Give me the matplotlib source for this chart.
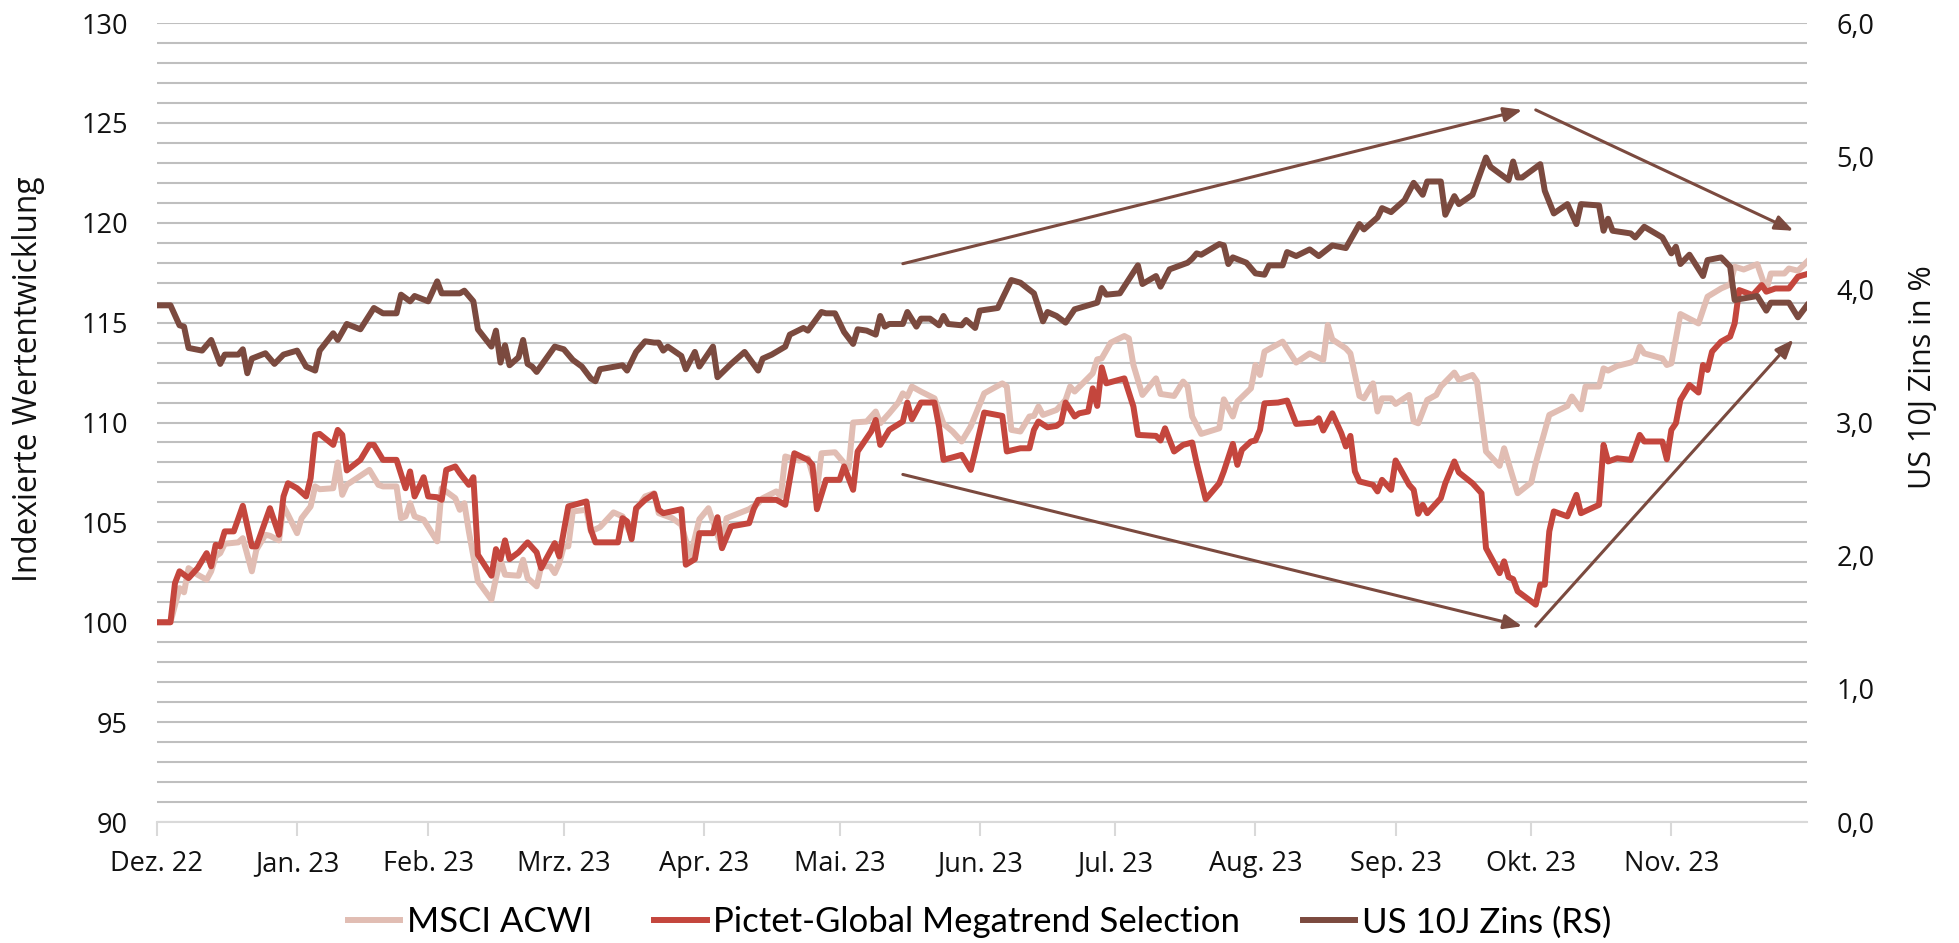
import matplotlib.pyplot as plt
import matplotlib.ticker as mticker
import numpy as np

# Daten (Tage ab 30.12.2022)
start = np.datetime64("2022-12-30")

msci_day = [0, 3, 5, 6, 7, 9, 11, 12, 13, 14, 15, 18, 19, 21, 22, 24, 25, 27, 28, 29,
            31, 32, 34, 35, 36, 39, 40, 41, 42, 47, 49, 50, 53, 54, 55, 56, 57, 59, 62,
            63, 66, 67, 68, 69, 71, 74, 75, 76, 77, 80, 81, 82, 84, 85, 87, 88, 89, 90,
            91, 92, 95, 96, 98, 101, 103, 105, 106, 108, 110, 111, 114, 116, 118, 120,
            122, 125, 126, 131, 133, 134, 137, 138, 139, 142, 144, 146, 147, 150, 153,
            154, 157, 159, 160, 162, 164, 165, 166, 167, 169, 172, 174, 176, 178, 180,
            183, 187, 188, 189, 191, 193, 194, 195, 196, 199, 201, 202, 203, 207, 208,
            209, 211, 214, 215, 216, 218, 221, 222, 225, 227, 228, 229, 231, 235, 236,
            238, 239, 242, 243, 244, 245, 249, 252, 255, 258, 259, 260, 263, 264, 266,
            267, 269, 270, 271, 273, 274, 277, 278, 279, 281, 283, 284, 287, 288, 291,
            292, 294, 297, 298, 301, 304, 305, 308, 312, 313, 315, 316, 319, 320, 321,
            323, 326, 327, 328, 329, 333, 334, 335, 337, 341, 343, 346, 348, 349, 351,
            354, 356, 357, 360, 361, 363, 365]
msci_val = [100.0, 100.0, 101.71, 101.5, 102.71, 102.38, 102.13, 102.55, 103.3, 103.46,
            103.93, 104.0, 104.21, 102.55, 103.63, 104.38, 104.33, 104.1, 105.8, 105.38,
            104.46, 105.21, 105.8, 106.8, 106.66, 106.71, 108.0, 106.38, 106.88, 107.63,
            106.88, 106.8, 106.8, 105.21, 105.3, 105.96, 105.3, 105.13, 104.05,
            106.71, 106.21, 105.63, 105.96, 104.55, 102.05, 101.13, 102.21, 103.13,
            102.38, 102.33, 103.13, 102.21, 101.8, 102.8, 102.8, 102.46, 102.96, 103.8,
            103.8, 105.55, 105.63, 104.55, 104.76, 105.5, 105.3, 104.3, 105.63, 106.3,
            106.46, 105.46, 105.21, 104.88, 103.3, 105.16, 105.71, 103.71, 105.21,
            105.66, 105.96, 106.21, 106.55, 106.3, 108.3, 108.1, 108.21, 106.63, 108.46,
            108.51, 107.71, 110.0, 110.05, 110.55, 109.96, 110.46, 111.0, 111.46, 111.3,
            111.8, 111.55, 111.21, 109.93, 109.55, 109.05, 109.8, 111.46, 111.96, 111.8,
            109.63, 109.55, 110.3, 110.33, 110.8, 110.38, 110.63, 111.13, 111.8, 111.55,
            112.46, 113.16, 113.21, 114.0, 114.33, 114.21, 112.88, 111.38, 112.21,
            111.43, 111.33, 112.05, 111.8, 110.3, 109.43, 109.71, 111.16, 110.3, 111.05,
            111.71, 112.88, 112.38, 113.55, 114.05, 113.0, 113.46, 113.13, 114.88,
            114.16, 113.71, 113.46, 111.33, 111.21, 111.96, 110.55, 111.21, 111.21,
            110.93, 111.38, 110.05, 109.96, 111.13, 111.38, 111.8, 112.5, 112.13,
            112.38, 112.05, 108.55, 107.83, 108.71, 106.46, 107.0, 107.96, 110.38,
            110.83, 111.3, 110.66, 111.8, 111.8, 112.71, 112.6, 112.83, 113.0, 113.13,
            113.8, 113.46, 113.21, 112.88, 112.96, 115.43, 114.96, 116.3, 116.71,
            116.91, 117.8, 117.66, 117.93, 116.63, 117.46, 117.46, 117.71, 117.6, 118.05]

pictet_day = [0, 3, 4, 5, 7, 9, 11, 12, 13, 14, 15, 17, 19, 21, 22, 25, 27, 28, 29, 31,
              33, 34, 35, 36, 39, 40, 41, 42, 45, 47, 48, 50, 53, 55, 56, 57, 59, 60, 62,
              63, 64, 66, 67, 69, 70, 71, 74, 75, 76, 77, 78, 80, 82, 84, 85, 88, 89, 91,
              95, 96, 97, 102, 103, 104, 105, 106, 108, 110, 111, 112, 116, 117, 119,
              120, 123, 124, 125, 127, 131, 132, 133, 137, 139, 141, 144, 145, 146, 148,
              151, 152, 154, 155, 158, 159, 160, 162, 165, 166, 167, 169, 172, 173, 174,
              178, 180, 181, 183, 187, 188, 191, 193, 194, 195, 197, 199, 200, 201, 203,
              204, 206, 207, 208, 209, 210, 214, 216, 217, 221, 222, 223, 225, 227, 229,
              230, 232, 235, 236, 238, 239, 240, 242, 243, 244, 245, 248, 250, 252, 256,
              257, 258, 260, 262, 263, 264, 265, 266, 269, 270, 271, 273, 274, 277, 278,
              279, 280, 281, 284, 285, 287, 288, 291, 293, 294, 297, 298, 299, 300, 301,
              305, 306, 307, 308, 309, 312, 314, 315, 319, 320, 321, 323, 326, 328, 329,
              333, 334, 335, 336, 337, 339, 341, 342, 343, 344, 346, 348, 349, 350, 353,
              355, 356, 358, 361, 363, 365]
pictet_val = [100.0, 100.0, 101.96, 102.55, 102.21, 102.71, 103.46, 102.8, 103.88, 103.8,
              104.55, 104.55, 105.83, 103.8, 103.8, 105.71, 104.38, 106.3, 106.96, 106.71,
              106.3, 107.21, 109.38, 109.43, 108.88, 109.63, 109.38, 107.6, 108.13,
              108.88, 108.88, 108.13, 108.13, 106.71, 107.55, 106.3, 107.26, 106.3,
              106.26, 106.13, 107.63, 107.8, 107.46, 106.88, 107.26, 103.38, 102.33,
              103.66, 103.16, 104.1, 103.16, 103.5, 104.0, 103.5, 102.71, 103.96, 103.3,
              105.8, 106.05, 104.63, 104.0, 104.0, 105.21, 105.05, 104.16, 105.71, 106.13,
              106.43, 105.63, 105.46, 105.66, 102.88, 103.16, 104.46, 104.46, 105.26,
              103.71, 104.8, 104.96, 105.66, 106.13, 106.13, 105.88, 108.46, 108.13,
              107.88, 105.66, 107.13, 107.13, 107.8, 106.63, 108.55, 109.55, 110.13,
              108.88, 109.63, 110.05, 111.0, 110.16, 111.0, 111.0, 109.8, 108.13, 108.38,
              107.63, 108.55, 110.5, 110.33, 108.55, 108.71, 108.71, 109.63, 110.05,
              109.76, 109.83, 110.0, 111.0, 110.3, 110.46, 110.55, 111.71, 110.83,
              112.76, 111.96, 112.21, 110.8, 109.38, 109.33, 109.1, 109.71, 108.55,
              108.88, 109.0, 107.96, 106.16, 106.96, 107.55, 108.93, 107.88, 108.63,
              109.05, 109.1, 109.63, 110.96, 111.0, 111.1, 109.93, 110.0, 110.21, 109.6,
              110.46, 109.46, 108.8, 109.33, 107.55, 107.05, 106.88, 106.55, 107.13,
              106.63, 108.1, 106.88, 106.63, 105.43, 105.88, 105.46, 106.21, 106.96,
              108.05, 107.5, 106.96, 106.46, 103.71, 102.46, 103.05, 102.26, 102.16,
              101.55, 100.88, 101.88, 101.88, 104.55, 105.55, 105.3, 106.38, 105.46,
              105.88, 108.88, 108.05, 108.21, 108.13, 109.38, 109.05, 109.05, 108.16,
              109.63, 109.96, 111.13, 111.88, 111.5, 112.88, 112.63, 113.55, 114.05,
              114.3, 114.96, 116.63, 116.38, 116.88, 116.55, 116.71, 116.71, 117.3, 117.43]

zins_day = [0, 3, 5, 6, 7, 10, 12, 14, 15, 18, 19, 20, 21, 24, 26, 28, 31, 33, 35, 36,
            39, 40, 42, 45, 48, 50, 53, 54, 56, 57, 60, 62, 63, 67, 68, 70, 71, 74, 75,
            76, 77, 78, 80, 81, 82, 83, 84, 88, 90, 92, 94, 96, 97, 98, 103, 104, 106,
            108, 110, 111, 112, 113, 116, 117, 119, 120, 123, 124, 127, 130, 133, 134,
            136, 139, 140, 143, 144, 147, 148, 150, 152, 154, 155, 157, 159, 160, 161,
            162, 165, 166, 168, 169, 171, 173, 174, 175, 178, 179, 181, 182, 186, 189,
            191, 194, 196, 197, 199, 201, 203, 208, 209, 210, 213, 217, 218, 221, 222,
            224, 228, 229, 230, 231, 235, 236, 237, 238, 241, 243, 245, 246, 249, 250,
            252, 255, 257, 260, 263, 266, 267, 270, 271, 273, 276, 278, 280, 281, 284,
            285, 287, 288, 291, 294, 295, 299, 300, 301, 302, 306, 307, 309, 312, 314,
            315, 319, 320, 321, 322, 326, 327, 329, 333, 335, 336, 337, 339, 342, 343,
            346, 348, 349, 354, 356, 357, 361, 363, 365]
zins_val = [3.88, 3.88, 3.73, 3.72, 3.56, 3.54, 3.62, 3.44, 3.51, 3.51, 3.55, 3.37, 3.48,
            3.52, 3.44, 3.51, 3.54, 3.42, 3.39, 3.54, 3.67, 3.62, 3.74, 3.70, 3.86, 3.82,
            3.82, 3.96, 3.91, 3.95, 3.91, 4.06, 3.97, 3.97, 3.99, 3.91, 3.70, 3.57, 3.69,
            3.45, 3.58, 3.43, 3.49, 3.62, 3.44, 3.42, 3.38, 3.57, 3.55, 3.47, 3.42, 3.33,
            3.31, 3.40, 3.43, 3.39, 3.53, 3.61, 3.60, 3.60, 3.54, 3.57, 3.50, 3.40, 3.53,
            3.42, 3.57, 3.34, 3.44, 3.53, 3.39, 3.48, 3.51, 3.57, 3.66, 3.71, 3.69, 3.83,
            3.82, 3.82, 3.68, 3.59, 3.70, 3.69, 3.66, 3.80, 3.72, 3.74, 3.74, 3.83, 3.72,
            3.78, 3.78, 3.73, 3.80, 3.74, 3.73, 3.77, 3.71, 3.84, 3.86, 4.07, 4.05, 3.97,
            3.76, 3.83, 3.80, 3.75, 3.85, 3.90, 4.01, 3.96, 3.97, 4.18, 4.04, 4.10, 4.02,
            4.15, 4.20, 4.23, 4.27, 4.26, 4.34, 4.33, 4.19, 4.24, 4.20, 4.12, 4.11, 4.18,
            4.18, 4.28, 4.25, 4.30, 4.25, 4.33, 4.31, 4.49, 4.45, 4.54, 4.61, 4.58, 4.67,
            4.80, 4.71, 4.81, 4.81, 4.56, 4.70, 4.64, 4.71, 4.99, 4.92, 4.82, 4.96, 4.84,
            4.84, 4.94, 4.74, 4.57, 4.64, 4.49, 4.64, 4.63, 4.44, 4.53, 4.44, 4.42, 4.39,
            4.47, 4.39, 4.27, 4.32, 4.19, 4.26, 4.10, 4.22, 4.24, 4.17, 3.92, 3.95, 3.84,
            3.90, 3.90, 3.79, 3.88]

tick_day = [0, 31, 60, 90, 121, 151, 182, 212, 243, 274, 304, 335]
tick_labels = ["Dez. 22", "Jan. 23", "Feb. 23", "Mrz. 23", "Apr. 23", "Mai. 23",
               "Jun. 23", "Jul. 23", "Aug. 23", "Sep. 23", "Okt. 23", "Nov. 23"]

# Trendpfeile (Tag, Indexwert linke Achse)
arrow_from_day = [165, 305, 165, 305]
arrow_from_val = [117.95, 125.65, 107.4, 99.8]
arrow_to_day = [302, 362, 302, 362]
arrow_to_val = [125.65, 119.6, 99.8, 114.15]

C_MSCI = "#E1BDB3"
C_PICTET = "#C4463D"
C_ZINS = "#7B4A3F"
GRID = "#BFBFBF"
AXIS = "#D9D9D9"
FONT = "Open Sans"


def to_dates(days):
    return start + np.array(days).astype("timedelta64[D]")


fig = plt.figure(figsize=(19.59, 9.43), dpi=100)
ax = fig.add_axes([0.0801, 0.1283, 0.8423, 0.8473])
ax2 = ax.twinx()

# Gitternetz
ax.set_ylim(90, 130)
ax.set_yticks(np.arange(90, 131, 5))
ax.set_yticks(np.arange(90, 131, 1), minor=True)
ax.grid(axis="y", which="both", color=GRID, lw=1.5)
ax.set_axisbelow(True)

ax.plot(to_dates(msci_day), msci_val, color=C_MSCI, lw=4.3, solid_joinstyle="round",
        zorder=3, label="MSCI ACWI")
ax.plot(to_dates(pictet_day), pictet_val, color=C_PICTET, lw=4.3, solid_joinstyle="round",
        zorder=4, label="Pictet-Global Megatrend Selection")
ax2.plot(to_dates(zins_day), zins_val, color=C_ZINS, lw=4.3, solid_joinstyle="round",
         label="US 10J Zins (RS)")

for fd, fv, td, tv in zip(arrow_from_day, arrow_from_val, arrow_to_day, arrow_to_val):
    ax.annotate("", xy=(to_dates([td])[0], tv), xytext=(to_dates([fd])[0], fv),
                arrowprops=dict(arrowstyle="-|>,head_length=0.55,head_width=0.22",
                                color=C_ZINS, lw=2.2, mutation_scale=20,
                                shrinkA=0, shrinkB=0), zorder=6)

ax.set_xlim(start, start + np.timedelta64(365, "D"))
ax.set_xticks(to_dates(tick_day))
ax.set_xticklabels(tick_labels)
ax2.set_ylim(0, 6)
ax2.set_yticks(np.arange(0, 7, 1))
ax2.yaxis.set_major_formatter(mticker.FuncFormatter(lambda v, p: f"{v:.1f}".replace(".", ",")))

for a in (ax, ax2):
    for s in a.spines.values():
        s.set_visible(False)
ax.spines["bottom"].set_visible(True)
ax.spines["bottom"].set_color(AXIS)
ax.spines["bottom"].set_linewidth(1.5)

ax.tick_params(axis="x", length=10, width=1.5, color=AXIS, pad=10,
               labelsize=19.5, labelcolor="#111111")
ax.tick_params(axis="y", which="both", length=0, pad=21, labelsize=19.5, labelcolor="#111111")
ax2.tick_params(axis="y", length=0, pad=21, labelsize=19.5, labelcolor="#111111")
for lab in ax.get_xticklabels() + ax.get_yticklabels() + ax2.get_yticklabels():
    lab.set_fontfamily(FONT)

fig.text(0.0143, 0.598, "Indexierte Wertentwicklung", rotation=90, ha="center",
         va="center", fontsize=22.8, family=FONT, color="#111111")
fig.text(0.9816, 0.60, "US 10J Zins in %", rotation=90, ha="center", va="center",
         fontsize=22, family=FONT, color="#111111")

h1, l1 = ax.get_legend_handles_labels()
h2, l2 = ax2.get_legend_handles_labels()
fig.legend(h1 + h2, l1 + l2, loc="center", bbox_to_anchor=(0.5, 0.022), ncol=3,
           frameon=False, prop={"family": "Lato", "size": 25}, handlelength=1.5,
           handletextpad=0.2, columnspacing=1.8, borderpad=0)

fig.savefig("out.png", dpi=100, facecolor="white")
